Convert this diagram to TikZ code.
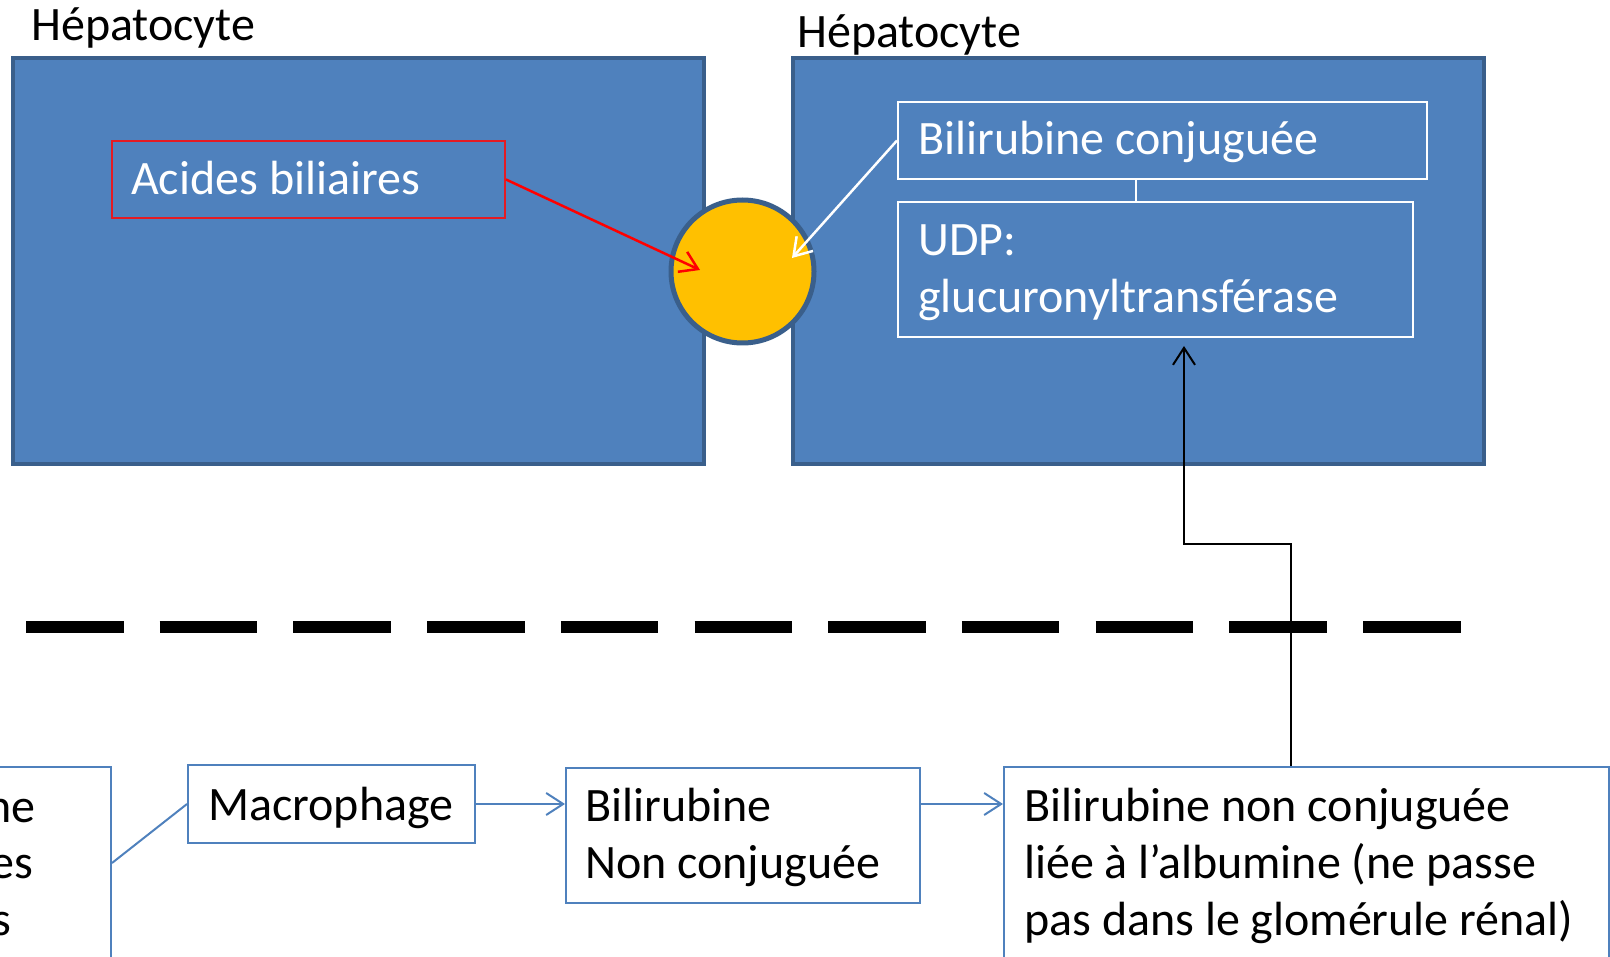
\documentclass[tikz,border=0pt]{standalone}
\usepackage{fontspec}
\setmainfont{Carlito}
\usetikzlibrary{arrows.meta}
\definecolor{hepfill}{HTML}{4F81BD}
\definecolor{hepline}{HTML}{3A5F8B}
\definecolor{gold}{HTML}{FFC000}
\definecolor{boxblue}{HTML}{4F81BD}
\definecolor{redbox}{HTML}{E41B23}
\tikzset{
  hep/.style={draw=hepline, fill=hepfill, line width=4pt, inner sep=0pt, anchor=north west},
  wbox/.style={draw=white, line width=2pt, inner sep=0pt, anchor=north west},
  rbox/.style={draw=redbox, line width=2pt, inner sep=0pt, anchor=north west},
  bbox/.style={draw=boxblue, line width=2pt, fill=white, inner sep=0pt, anchor=north west},
  txt/.style={inner sep=0pt, anchor=base west, align=left, font=\fontsize{48pt}{57pt}\selectfont},
  barb/.style={-{Straight Barb[length=17pt,width=22pt]}},
}
\begin{document}
\begin{tikzpicture}[x=1pt,y=-1pt]
\useasboundingbox (0,0) rectangle (1610,957);
\clip (0,0) rectangle (1610,957);
% hepatocytes
\node[hep, minimum width=691pt, minimum height=406pt] (hepL) at (11,56) {};
\node[hep, minimum width=691pt, minimum height=406pt] (hepR) at (791,56) {};
\node[txt] (tHepL) at (31,41) {Hépatocyte};
\node[txt] (tHepR) at (797,48) {Hépatocyte};
% canal
\node[circle, draw=hepline, fill=gold, line width=5pt, minimum size=143pt, inner sep=0pt] (canal) at (742.5,271.5) {};
% boxes inside
\node[rbox, minimum width=393pt, minimum height=77pt] (acides) at (111,140) {};
\node[txt, text=white] (tAcides) at (131,195) {Acides biliaires};
\node[wbox, minimum width=529pt, minimum height=77pt] (bc) at (897,101) {};
\node[txt, text=white] (tBc) at (918,155) {Bilirubine conjuguée};
\node[wbox, minimum width=515pt, minimum height=135pt] (udp) at (897,201) {};
\node[txt, text=white] (tUdp) at (918,313) {UDP:\\glucuronyltransférase};
\coordinate (link) at (1136,0);
\draw[white, line width=2pt] (bc.south -| link) -- (udp.north -| link);
% arrows into canal
\coordinate (redtip) at (700,270);
\coordinate (whitetip) at (792,258);
\draw[red, line width=2.5pt, barb] (acides.east) -- (redtip);
\draw[white, line width=2.5pt, barb] (bc.west) -- (whitetip);
% dashed separator
\coordinate (d1) at (26,627);
\coordinate (d2) at (1461,627);
\draw[black, line width=12pt, dash pattern=on 97.5pt off 36.2pt] (d1) -- (d2);
% bottom row
\node[bbox, anchor=north east, minimum width=300pt, minimum height=192pt] (hem) at (112,766) {};
\node[txt, anchor=base east] (tHem1) at (36,822) {ne};
\node[txt, anchor=base east] (tHem2) at (33,878) {es};
\node[txt, anchor=base east] (tHem3) at (11,935) {s};
\node[bbox, minimum width=287pt, minimum height=78pt] (macro) at (187,764) {};
\node[txt] (tMacro) at (208,820) {Macrophage};
\node[bbox, minimum width=354pt, minimum height=135pt] (bnc) at (565,767) {};
\node[txt] (tBnc) at (585,878) {Bilirubine\\Non conjuguée};
\node[bbox, minimum width=605pt, minimum height=250pt] (liee) at (1003,766) {};
\node[txt] (tLiee) at (1024,935) {Bilirubine non conjuguée\\liée à l’albumine (ne passe\\pas dans le glomérule rénal)};
\draw[boxblue, line width=2pt] (hem.east) -- (macro.west);
\draw[boxblue, line width=2pt, barb] (macro.east) -- (macro.east -| bnc.west);
\draw[boxblue, line width=2pt, barb] (macro.east -| bnc.east) -- (macro.east -| liee.west);
% transport to liver
\coordinate (up) at (1290.5,0);
\coordinate (bend) at (1184,544);
\draw[black, line width=2pt, barb, shorten >=8pt] (liee.north -| up) |- (bend) -- (bend |- udp.south);
\end{tikzpicture}
\end{document}
